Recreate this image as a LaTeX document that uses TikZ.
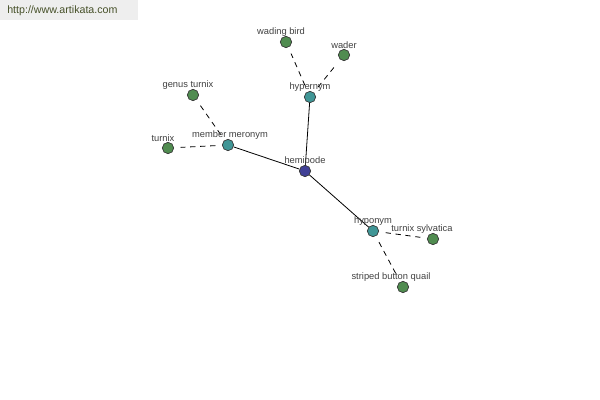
\documentclass[tikz,border=0pt]{standalone}
\usepackage{fontspec}
\setmainfont{Liberation Sans}
\usetikzlibrary{calc}

\definecolor{hubblue}{RGB}{64,64,150}
\definecolor{relteal}{RGB}{64,150,150}
\definecolor{leafgreen}{RGB}{80,140,80}
\definecolor{bargray}{RGB}{238,238,238}
\definecolor{urlgreen}{RGB}{70,80,40}

\tikzset{
    dot/.style={circle,draw=black!80,line width=0.5pt,inner sep=0pt,minimum size=8.5pt},
    hub/.style={dot,fill=hubblue},
    rel/.style={dot,fill=relteal},
    leaf/.style={dot,fill=leafgreen},
    lbl/.style={font=\fontsize{7}{8}\selectfont,text=black!75,inner sep=0pt},
    solidlink/.style={draw=black,line width=0.6pt},
    dashlink/.style={draw=black,line width=0.6pt,dash pattern=on 4pt off 3.5pt,shorten <=5pt,shorten >=5pt}
}

\begin{document}
\begin{tikzpicture}[x=0.75pt,y=-0.75pt]
    \useasboundingbox (0,0) rectangle (600,400);
    \fill[bargray] (0,0) rectangle (138,20);
    \node[anchor=west,inner sep=0pt,text=urlgreen,font=\fontsize{8}{9}\selectfont] (url) at (7,11) {http://www.artikata.com};

    \node[hub]  (hemipode) at (305,171) {};
    \node[rel]  (hypernym) at (310,97) {};
    \node[rel]  (meronym)  at (228,145) {};
    \node[rel]  (hyponym)  at (373,231) {};
    \node[leaf] (wading)   at (286,42) {};
    \node[leaf] (wader)    at (344,55) {};
    \node[leaf] (genus)    at (193,95) {};
    \node[leaf] (turnix)   at (168,148) {};
    \node[leaf] (sylvatica) at (433,239) {};
    \node[leaf] (striped)  at (403,287) {};

    \draw[solidlink] (hemipode) -- (hypernym);
    \draw[solidlink] (hemipode) -- (meronym);
    \draw[solidlink] (hemipode) -- (hyponym);
    \draw[dashlink] (hypernym) -- (wading);
    \draw[dashlink] (hypernym) -- (wader);
    \draw[dashlink] (meronym) -- (genus);
    \draw[dashlink] (meronym) -- (turnix);
    \draw[dashlink] (hyponym) -- (sylvatica);
    \draw[dashlink] (hyponym) -- (striped);

    \node[lbl] (hemipode-l) at (305,161) {hemipode};
    \node[lbl] (hypernym-l) at (310,87) {hypernym};
    \node[lbl] (meronym-l)  at (230,135) {member meronym};
    \node[lbl] (hyponym-l)  at (373,221) {hyponym};
    \node[lbl] (wading-l)   at (281,32) {wading bird};
    \node[lbl] (wader-l)    at (344,45) {wader};
    \node[lbl] (genus-l)    at (188,85) {genus turnix};
    \node[lbl] (turnix-l)   at (163,138) {turnix};
    \node[lbl] (sylvatica-l) at (422,229) {turnix sylvatica};
    \node[lbl] (striped-l)  at (391,277) {striped button quail};
\end{tikzpicture}
\end{document}
